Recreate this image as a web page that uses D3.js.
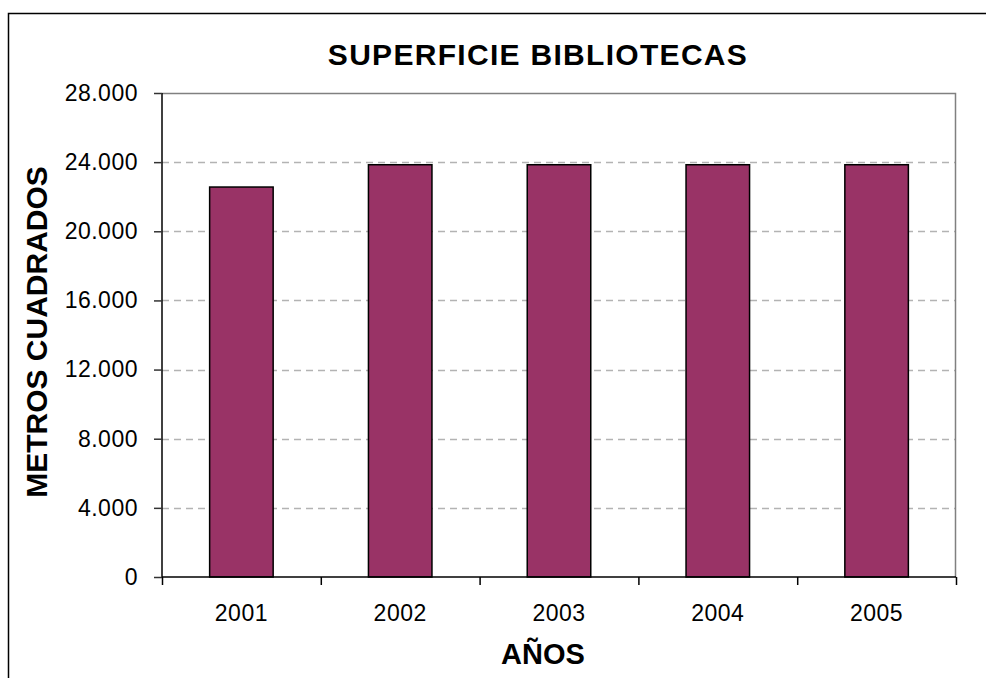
<!DOCTYPE html>
<html>
<head>
<meta charset="utf-8">
<style>
  body { margin: 0; background: #fff; }
  text { font-family: "Liberation Sans", Arial, sans-serif; fill: #000; }
  .grid line { stroke: #b3b3b3; stroke-width: 1.3; stroke-dasharray: 7,5; }
  .bar { fill: #993366; stroke: #000; stroke-width: 1.5; }
</style>
</head>
<body>
<svg width="986" height="678"></svg>
<script src="https://d3js.org/d3.v7.min.js"></script>
<script>
var years = ["2001", "2002", "2003", "2004", "2005"];
var metros = [22560, 23850, 23850, 23850, 23850];
var yTicks = [0, 4000, 8000, 12000, 16000, 20000, 24000, 28000];

var plot = {left: 162, top: 93, right: 956, bottom: 577};
var width = plot.right - plot.left,
    height = plot.bottom - plot.top;

var svg = d3.select("svg");

// outer chart frame
svg.append("rect")
    .attr("x", 8.5).attr("y", 13.5)
    .attr("width", 1000).attr("height", 700)
    .attr("fill", "none").attr("stroke", "#000").attr("stroke-width", 1.5);

var x = d3.scaleBand().domain(years).range([0, width]).paddingInner(0.6).paddingOuter(0.3);
var xb = d3.scaleLinear().domain([0, years.length]).range([0, width]);
var y = d3.scaleLinear().domain([0, 28000]).range([height, 0]);

var fmt = function(d) { return d3.format(",")(d).replace(/,/g, "."); };

var g = svg.append("g")
    .attr("transform", "translate(" + plot.left + "," + plot.top + ")");

// gridlines
g.append("g").attr("class", "grid")
  .selectAll("line")
  .data(yTicks.filter(function(d) { return d > 0 && d < 28000; }))
  .enter().append("line")
    .attr("x1", 0).attr("x2", width)
    .attr("y1", function(d) { return Math.round(y(d)) + 0.5; })
    .attr("y2", function(d) { return Math.round(y(d)) + 0.5; });

// plot frame top & right
g.append("path")
    .attr("d", "M0,0.5H" + (width - 0.5) + "V" + height)
    .attr("fill", "none").attr("stroke", "#808080").attr("stroke-width", 1.5);

// bars
g.selectAll(".bar")
  .data(metros)
  .enter().append("rect")
    .attr("class", "bar")
    .attr("x", function(d, i) { return x(years[i]); })
    .attr("width", x.bandwidth())
    .attr("y", function(d) { return y(d); })
    .attr("height", function(d) { return height - y(d); });

// y axis
var yAxis = g.append("g")
    .call(d3.axisLeft(y).tickValues(yTicks).tickFormat(fmt).tickSize(8).tickPadding(16));
yAxis.select(".domain").attr("stroke", "#000").attr("stroke-width", 1.5).attr("d", "M0,0V" + height);
yAxis.selectAll(".tick line").attr("stroke", "#333").attr("stroke-width", 1.5);
yAxis.selectAll("text")
    .style("font-size", "23px").style("letter-spacing", "0.5px")
    .style("font-family", "Liberation Sans, Arial, sans-serif").attr("fill", "#000");

// x axis with boundary ticks
var xAxis = g.append("g")
    .attr("transform", "translate(0," + height + ")")
    .call(d3.axisBottom(xb).tickValues(d3.range(years.length + 1)).tickSize(8).tickFormat(""));
xAxis.select(".domain").attr("stroke", "#000").attr("stroke-width", 1.5).attr("d", "M0,0H" + width);
xAxis.selectAll(".tick line").attr("stroke", "#000").attr("stroke-width", 1.5);

g.selectAll(".xlabel")
  .data(years)
  .enter().append("text")
    .attr("class", "xlabel")
    .attr("x", function(d) { return x(d) + x.bandwidth() / 2; })
    .attr("y", height + 44)
    .attr("text-anchor", "middle")
    .style("font-size", "23px").style("letter-spacing", "0.5px")
    .text(function(d) { return d; });

// titles
svg.append("text")
    .attr("x", 538).attr("y", 65)
    .attr("text-anchor", "middle")
    .style("font-size", "30px").style("font-weight", "bold").style("letter-spacing", "1.3px")
    .text("SUPERFICIE BIBLIOTECAS");

svg.append("text")
    .attr("x", 543).attr("y", 664)
    .attr("text-anchor", "middle")
    .style("font-size", "29px").style("font-weight", "bold")
    .text("AÑOS");

svg.append("text")
    .attr("transform", "translate(47,332) rotate(-90)")
    .attr("text-anchor", "middle")
    .style("font-size", "30px").style("font-weight", "bold")
    .text("METROS CUADRADOS");
</script>
</body>
</html>
